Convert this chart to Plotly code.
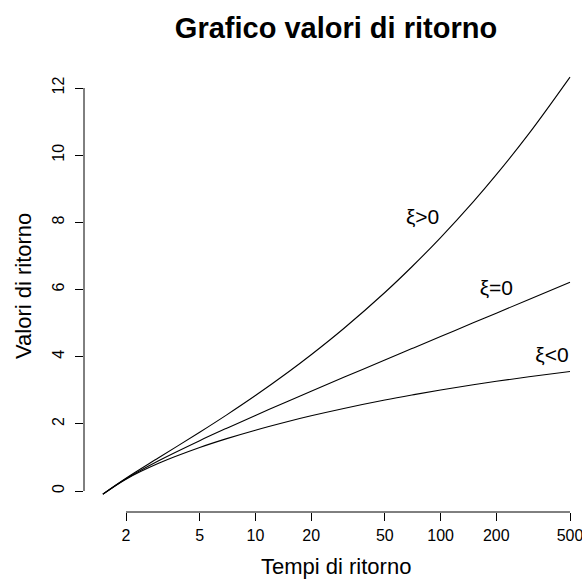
import math
import plotly.graph_objects as go

# Return periods (years) and return levels
T = [1.5, 2, 3, 5, 7, 10, 15, 20, 30, 50, 70, 100, 150, 200, 300, 500]
z_pos = [-0.093, 0.380, 0.989, 1.749, 2.267, 2.842, 3.535, 4.056, 4.838, 5.911,
         6.678, 7.547, 8.611, 9.420, 10.641, 12.325]   # xi > 0
z_zero = [-0.094, 0.367, 0.903, 1.500, 1.870, 2.250, 2.674, 2.970, 3.384, 3.902,
          4.241, 4.600, 5.007, 5.296, 5.702, 6.214]   # xi = 0
z_neg = [-0.095, 0.353, 0.826, 1.296, 1.560, 1.812, 2.071, 2.240, 2.459, 2.709,
         2.859, 3.007, 3.163, 3.266, 3.402, 3.557]    # xi < 0

labels = ["ξ>0", "ξ=0", "ξ<0"]
label_x = [80, 200, 400]
label_y = [8.1, 6, 4]

x_ticks = [2, 5, 10, 20, 50, 100, 200, 500]
y_ticks = [0, 2, 4, 6, 8, 10, 12]

FONT = "Liberation Sans, Arial, Helvetica, sans-serif"

xr = [0.0742, 2.7638]
yr = [-0.625, 12.834]

fig = go.Figure()
for z in (z_pos, z_zero, z_neg):
    fig.add_trace(go.Scatter(x=T, y=z, mode="lines", line=dict(color="black", width=1.1, shape="spline"),
                             showlegend=False, hoverinfo="skip"))

fig.add_trace(go.Scatter(x=label_x, y=label_y, mode="text", text=labels,
                         textfont=dict(family=FONT, size=21, color="black"),
                         showlegend=False, hoverinfo="skip"))

def xpaper(v):
    return (math.log10(v) - xr[0]) / (xr[1] - xr[0])

shapes = [
    dict(type="line", xref="paper", yref="paper", x0=xpaper(x_ticks[0]), x1=xpaper(x_ticks[-1]),
         y0=0, y1=0, line=dict(color="black", width=1)),
    dict(type="line", xref="paper", yref="y", x0=0, x1=0, y0=y_ticks[0], y1=y_ticks[-1],
         line=dict(color="black", width=1)),
]

# plot area: left 84px, width 498px; top 60px, height 452px
annotations = [
    dict(text="Tempi di ritorno", xref="paper", yref="paper", x=(336 - 84) / 498, y=-(566 - 512) / 452,
         xanchor="center", yanchor="middle", showarrow=False,
         font=dict(family=FONT, size=22, color="black")),
    dict(text="Valori di ritorno", xref="paper", yref="paper", x=-(84 - 23) / 498, y=0.5,
         xanchor="center", yanchor="middle", textangle=-90, showarrow=False,
         font=dict(family=FONT, size=22, color="black")),
]

fig.update_layout(
    width=582, height=581,
    margin=dict(l=84, r=0, t=60, b=69),
    paper_bgcolor="white", plot_bgcolor="white",
    shapes=shapes, annotations=annotations,
    title=dict(text="<b>Grafico valori di ritorno</b>", x=336/582, xref="container", xanchor="center",
               y=1 - 28/581, yref="container", yanchor="middle",
               font=dict(family=FONT, size=29, color="black")),
    xaxis=dict(type="log", range=xr, tickvals=x_ticks, ticktext=[str(v) for v in x_ticks],
               ticks="outside", ticklen=8, tickcolor="black", tickwidth=1, ticklabelstandoff=1,
               ticklabeloverflow="allow",
               showgrid=False, zeroline=False, showline=False,
               tickfont=dict(family=FONT, size=16, color="black")),
    yaxis=dict(range=yr, tickvals=y_ticks, ticks="outside", ticklen=8, tickcolor="black", tickwidth=1,
               tickangle=-90, ticklabelstandoff=5, showgrid=False, zeroline=False, showline=False,
               tickfont=dict(family=FONT, size=16, color="black")),
)

fig.write_html("out.html")
